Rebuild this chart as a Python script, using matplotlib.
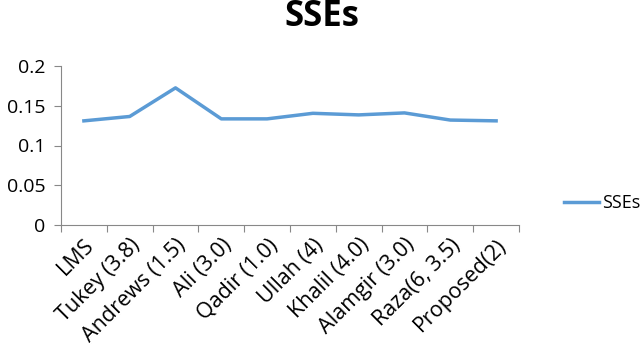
import matplotlib
matplotlib.use("Agg")
import matplotlib.pyplot as plt
import matplotlib.transforms as mtransforms
import numpy as np

categories = ["LMS", "Tukey (3.8)", "Andrews (1.5)", "Ali (3.0)", "Qadir (1.0)",
              "Ullah (4)", "Khalil (4.0)", "Alamgir (3.0)", "Raza(6, 3.5)", "Proposed(2)"]
sses = [0.131, 0.1365, 0.1725, 0.1335, 0.1335, 0.1405, 0.1385, 0.141, 0.132, 0.131]

plt.rcParams['font.family'] = ['Open Sans', 'DejaVu Sans']

fig = plt.figure(figsize=(6.44, 3.46), dpi=100)
ax = fig.add_axes([61/644, 1-225/346, (519-61)/644, (225-66)/346])

x = np.arange(len(categories))
ax.plot(x, sses, color="#5b9bd5", lw=2.5, label="SSEs")
ax.set_xlim(-0.5, len(categories)-0.5)
ax.set_ylim(0, 0.2)
ax.set_yticks([0, 0.05, 0.1, 0.15, 0.2])
ax.set_yticklabels(["0", "0.05", "0.1", "0.15", "0.2"], fontsize=14)

ax.set_xticks(np.arange(len(categories)+1)-0.5)
ax.set_xticklabels([])
ax.set_xticks(x, minor=True)
ax.set_xticklabels(categories, minor=True, rotation=45, ha="right",
                   rotation_mode="anchor", fontsize=15.5)
offset = mtransforms.ScaledTranslation(6/100, 0, fig.dpi_scale_trans)
for lbl in ax.get_xticklabels(minor=True):
    lbl.set_transform(lbl.get_transform() + offset)
ax.tick_params(axis="x", which="minor", length=0, pad=7)
ax.tick_params(axis="x", which="major", length=5, color="#888888")
ax.tick_params(axis="y", length=5, color="#888888", pad=6)

for s in ["top", "right"]:
    ax.spines[s].set_visible(False)
for s in ["left", "bottom"]:
    ax.spines[s].set_color("#888888")

fig.text(0.5, 1-17/346, "SSEs", ha="center", va="center", fontsize=25, fontweight="bold")

fig.legend(loc="center left", bbox_to_anchor=(548/644, 1-203/346), frameon=False,
           fontsize=13, handlelength=1.9, handletextpad=0.2)

fig.savefig("out.png", dpi=100)
